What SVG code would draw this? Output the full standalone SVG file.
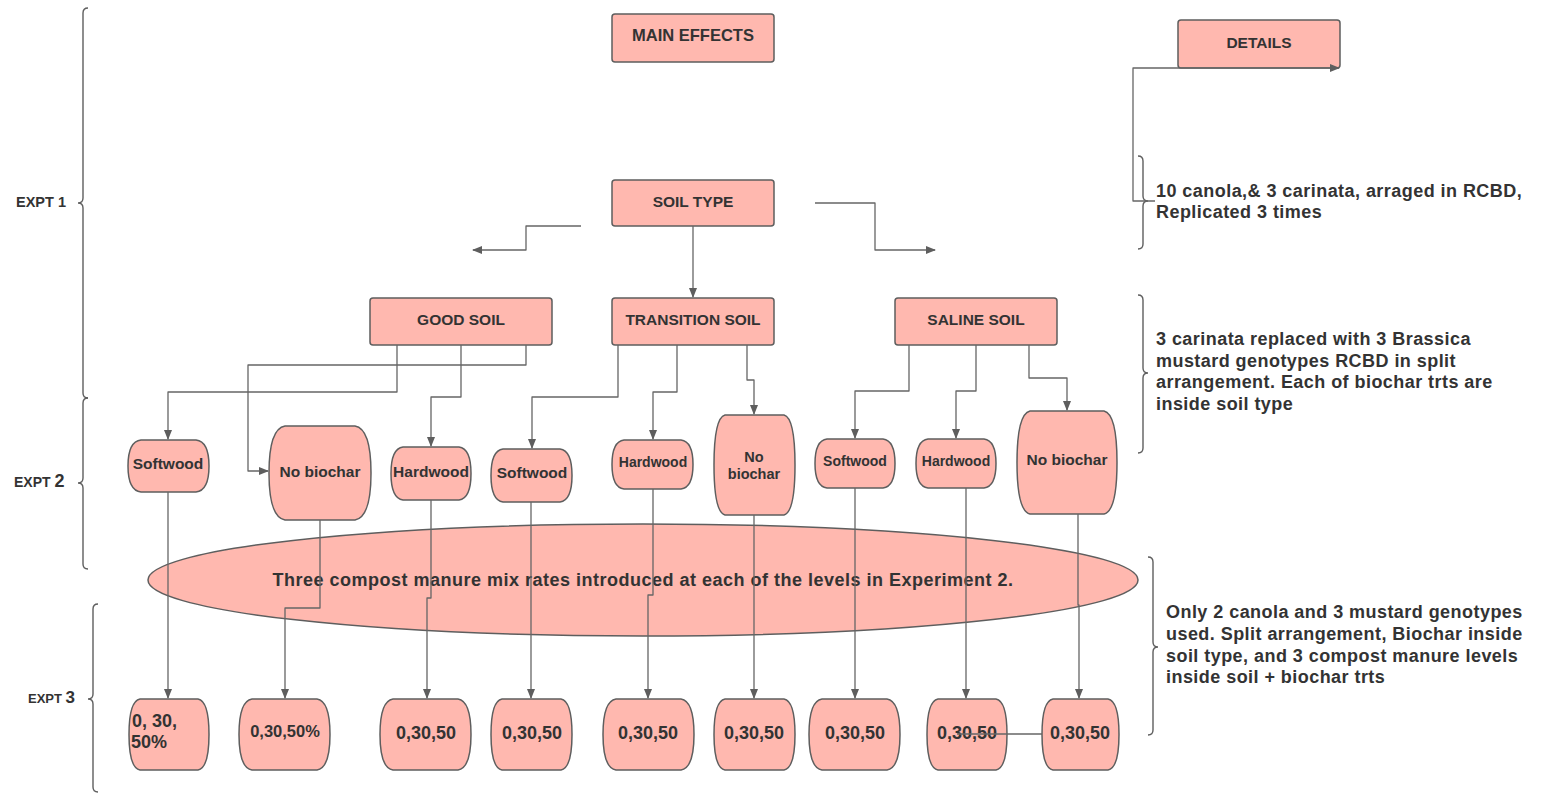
<svg xmlns="http://www.w3.org/2000/svg" width="1545" height="793" viewBox="0 0 1545 793">
<style>
.box{fill:#FFB8AF;stroke:#5E5E5E;stroke-width:1.5}
.t{font-family:"Liberation Sans",Arial,Helvetica,sans-serif;font-weight:bold;fill:#333333;text-anchor:middle}
.l{font-family:"Liberation Sans",Arial,Helvetica,sans-serif;font-weight:bold;fill:#333333}
.note{font-family:"Liberation Sans",Arial,Helvetica,sans-serif;font-weight:bold;fill:#333333;font-size:18px;letter-spacing:0.45px}
.c{fill:none;stroke:#666666;stroke-width:1.3;stroke-linejoin:round}
.a{marker-end:url(#ah)}
.br{fill:none;stroke:#5E5E5E;stroke-width:1.4}
</style>
<defs>
<marker id="ah" markerWidth="10" markerHeight="8" refX="9" refY="4" orient="auto" markerUnits="userSpaceOnUse"><path d="M0,0 L10,4 L0,8 Z" fill="#5E5E5E"/></marker>
<path id="b3a" d="M11,0 H69 C76.7,1.4 80,15.6 80,35.5 C80,55.4 76.7,69.6 69,71 H11 C3.3,69.6 0,55.4 0,35.5 C0,15.6 3.3,1.4 11,0 Z"/>
<path id="b3b" d="M13,0 H78 C87.1,1.4 91,15.6 91,35.5 C91,55.4 87.1,69.6 78,71 H13 C3.9,69.6 0,55.4 0,35.5 C0,15.6 3.9,1.4 13,0 Z"/>
<path id="b3c" d="M11,0 H70 C77.7,1.4 81,15.6 81,35.5 C81,55.4 77.7,69.6 70,71 H11 C3.3,69.6 0,55.4 0,35.5 C0,15.6 3.3,1.4 11,0 Z"/>
<path id="b3d" d="M11,0 H66 C73.7,1.4 77,15.6 77,35.5 C77,55.4 73.7,69.6 66,71 H11 C3.3,69.6 0,55.4 0,35.5 C0,15.6 3.3,1.4 11,0 Z"/>
<path id="b2s" d="M12,0 H68 C76.4,1 80,10.8 80,24.5 C80,38.2 76.4,48 68,49 H12 C3.6,48 0,38.2 0,24.5 C0,10.8 3.6,1 12,0 Z"/>
</defs>

<!-- braces and labels -->
<g id="expt1">
<path class="br" d="M88,8 Q83,8 83,13 L83,198 Q83,203 78,203 Q83,203 83,208 L83,393 Q83,398 88,398"/>
<text class="l" x="16" y="207" font-size="14.5">EXPT 1</text>
</g>
<g id="expt2">
<path class="br" d="M88,398 Q83,398 83,403 L83,478 Q83,483 78,483 Q83,483 83,488 L83,564 Q83,569 88,569"/>
<text class="l" x="14" y="487" font-size="14">EXPT <tspan font-size="18">2</tspan></text>
</g>
<g id="expt3">
<path class="br" d="M98,604 Q93,604 93,609 L93,694 Q93,699 88,699 Q93,699 93,704 L93,787 Q93,792 98,792"/>
<text class="l" x="28" y="703" font-size="13">EXPT <tspan font-size="17">3</tspan></text>
</g>

<g id="note1">
<path class="br" d="M1138,156 Q1143,156 1143,161 L1143,196 Q1143,201 1148,201 Q1143,201 1143,206 L1143,244 Q1143,249 1138,249"/>
<text class="note" x="1156" y="197">10 canola,&amp; 3 carinata, arraged in RCBD,</text>
<text class="note" x="1156" y="218">Replicated 3 times</text>
</g>
<g id="note2">
<path class="br" d="M1138,295 Q1143,295 1143,300 L1143,368 Q1143,373 1148,373 Q1143,373 1143,378 L1143,448 Q1143,453 1138,453"/>
<text class="note" x="1156" y="345">3 carinata replaced with 3 Brassica</text>
<text class="note" x="1156" y="367">mustard genotypes RCBD in split</text>
<text class="note" x="1156" y="388">arrangement. Each of biochar trts are</text>
<text class="note" x="1156" y="410">inside soil type</text>
</g>
<g id="note3">
<path class="br" d="M1148,557 Q1153,557 1153,562 L1153,642 Q1153,647 1158,647 Q1153,647 1153,652 L1153,730 Q1153,735 1148,735"/>
<text class="note" x="1166" y="618">Only 2 canola and 3 mustard genotypes</text>
<text class="note" x="1166" y="640">used. Split arrangement, Biochar inside</text>
<text class="note" x="1166" y="662">soil type, and 3 compost manure levels</text>
<text class="note" x="1166" y="683">inside soil + biochar trts</text>
</g>

<!-- rectangle nodes -->
<g id="main-effects"><rect class="box" x="612" y="14" width="162" height="48" rx="3"/><text class="t" x="693" y="41" font-size="16.5">MAIN EFFECTS</text></g>
<g id="details"><rect class="box" x="1178" y="20" width="162" height="48" rx="3"/><text class="t" x="1259" y="48" font-size="15.5">DETAILS</text></g>
<g id="soil-type"><rect class="box" x="612" y="180" width="162" height="46" rx="3"/><text class="t" x="693" y="207" font-size="15.5">SOIL TYPE</text></g>
<g id="good-soil"><rect class="box" x="370" y="298" width="182" height="47" rx="3"/><text class="t" x="461" y="325" font-size="15.5">GOOD SOIL</text></g>
<g id="transition-soil"><rect class="box" x="612" y="298" width="162" height="47" rx="3"/><text class="t" x="693" y="325" font-size="15.5">TRANSITION SOIL</text></g>
<g id="saline-soil"><rect class="box" x="895" y="298" width="162" height="47" rx="3"/><text class="t" x="976" y="325" font-size="15.5">SALINE SOIL</text></g>

<!-- experiment 2 nodes -->
<g id="softwood-1"><path class="box" transform="translate(128,440)" d="M13,0 H68 C77.1,1 81,11.4 81,26 C81,40.6 77.1,51 68,52 H13 C3.9,51 0,40.6 0,26 C0,11.4 3.9,1 13,0 Z"/><text class="t" x="168" y="469" font-size="15.5">Softwood</text></g>
<g id="nobiochar-1"><path class="box" transform="translate(269,426)" d="M16,0 H86 C97.2,1.9 102,20.7 102,47 C102,73.3 97.2,92.1 86,94 H16 C4.8,92.1 0,73.3 0,47 C0,20.7 4.8,1.9 16,0 Z"/><text class="t" x="320" y="477" font-size="15.5">No biochar</text></g>
<g id="hardwood-1"><path class="box" transform="translate(391,447)" d="M12,0 H68 C76.4,1.1 80,11.7 80,26.5 C80,41.3 76.4,51.9 68,53 H12 C3.6,51.9 0,41.3 0,26.5 C0,11.7 3.6,1.1 12,0 Z"/><text class="t" x="431" y="477" font-size="15.5">Hardwood</text></g>
<g id="softwood-2"><path class="box" transform="translate(491,449)" d="M12,0 H69 C77.4,1.1 81,11.7 81,26.5 C81,41.3 77.4,51.9 69,53 H12 C3.6,51.9 0,41.3 0,26.5 C0,11.7 3.6,1.1 12,0 Z"/><text class="t" x="532" y="478" font-size="15.5">Softwood</text></g>
<g id="hardwood-2"><path class="box" transform="translate(612,440)" d="M12,0 H69 C77.4,1 81,10.8 81,24.5 C81,38.2 77.4,48 69,49 H12 C3.6,48 0,38.2 0,24.5 C0,10.8 3.6,1 12,0 Z"/><text class="t" x="653" y="467" font-size="14">Hardwood</text></g>
<g id="nobiochar-2"><path class="box" transform="translate(714,415)" d="M11,0 H70 C77.7,2 81,22 81,50 C81,78 77.7,98 70,100 H11 C3.3,98 0,78 0,50 C0,22 3.3,2 11,0 Z"/><text class="t" x="754" y="462" font-size="14.5">No</text><text class="t" x="754" y="479" font-size="14.5">biochar</text></g>
<g id="softwood-3"><use href="#b2s" class="box" x="815" y="439"/><text class="t" x="855" y="466" font-size="14">Softwood</text></g>
<g id="hardwood-3"><use href="#b2s" class="box" x="916" y="439"/><text class="t" x="956" y="466" font-size="14">Hardwood</text></g>
<g id="nobiochar-3"><path class="box" transform="translate(1017,411)" d="M13,0 H87 C96.1,2.1 100,22.7 100,51.5 C100,80.3 96.1,100.9 87,103 H13 C3.9,100.9 0,80.3 0,51.5 C0,22.7 3.9,2.1 13,0 Z"/><text class="t" x="1067" y="465" font-size="15.5">No biochar</text></g>

<!-- compost ellipse -->
<g id="compost"><ellipse class="box" cx="643" cy="580" rx="495" ry="56"/><text class="t" x="643" y="586" font-size="18" letter-spacing="0.5">Three compost manure mix rates introduced at each of the levels in Experiment 2.</text></g>

<!-- experiment 3 nodes -->
<g id="rate-1"><use href="#b3a" class="box" x="129" y="699"/><text class="l" x="132" y="727" font-size="18">0, 30,</text><text class="l" x="131" y="748" font-size="18">50%</text></g>
<g id="rate-2"><use href="#b3b" class="box" x="239" y="699"/><text class="t" x="285" y="737" font-size="16.5">0,30,50%</text></g>
<g id="rate-3"><use href="#b3b" class="box" x="380" y="699"/><text class="t" x="426" y="739" font-size="18">0,30,50</text></g>
<g id="rate-4"><use href="#b3c" class="box" x="491" y="699"/><text class="t" x="532" y="739" font-size="18">0,30,50</text></g>
<g id="rate-5"><use href="#b3b" class="box" x="603" y="699"/><text class="t" x="648" y="739" font-size="18">0,30,50</text></g>
<g id="rate-6"><use href="#b3c" class="box" x="714" y="699"/><text class="t" x="754" y="739" font-size="18">0,30,50</text></g>
<g id="rate-7"><use href="#b3b" class="box" x="809" y="699"/><text class="t" x="855" y="739" font-size="18">0,30,50</text></g>
<g id="rate-8"><use href="#b3a" class="box" x="927" y="699"/><text class="t" x="967" y="739" font-size="18">0,30,50</text></g>
<g id="rate-9"><use href="#b3d" class="box" x="1042" y="699"/><text class="t" x="1080" y="739" font-size="18">0,30,50</text></g>

<!-- connectors -->
<g id="connectors">
<path class="c a" d="M693,226 V297"/>
<path class="c a" d="M581,226 H526 V250 H473"/>
<path class="c a" d="M815,203 H875 V250 H935"/>
<path class="c a" d="M397,345 V392 H168 V439"/>
<path class="c a" d="M461,345 V397 H431 V446"/>
<path class="c a" d="M526,345 V365 H248 V471 H268"/>
<path class="c a" d="M618,345 V397 H532 V448"/>
<path class="c a" d="M677,345 V392 H653 V439"/>
<path class="c a" d="M747,345 V380 H754 V414"/>
<path class="c a" d="M909,345 V391 H855 V438"/>
<path class="c a" d="M976,345 V391 H956 V438"/>
<path class="c a" d="M1029,345 V378 H1067 V410"/>
<path class="c a" d="M168,492 V698"/>
<path class="c a" d="M320,520 V608 H285 V698"/>
<path class="c a" d="M431,500 V598 H427 V698"/>
<path class="c a" d="M531,502 V698"/>
<path class="c a" d="M653,489 V595 H648 V698"/>
<path class="c a" d="M754,515 V698"/>
<path class="c a" d="M855,488 V698"/>
<path class="c a" d="M966,488 V698"/>
<path class="c a" d="M1078,514 V605 H1079 V698"/>
<path class="c" d="M1042,734 H957"/>
<path class="c a" d="M1155,201 H1133 V68 H1339"/>
</g>
</svg>
